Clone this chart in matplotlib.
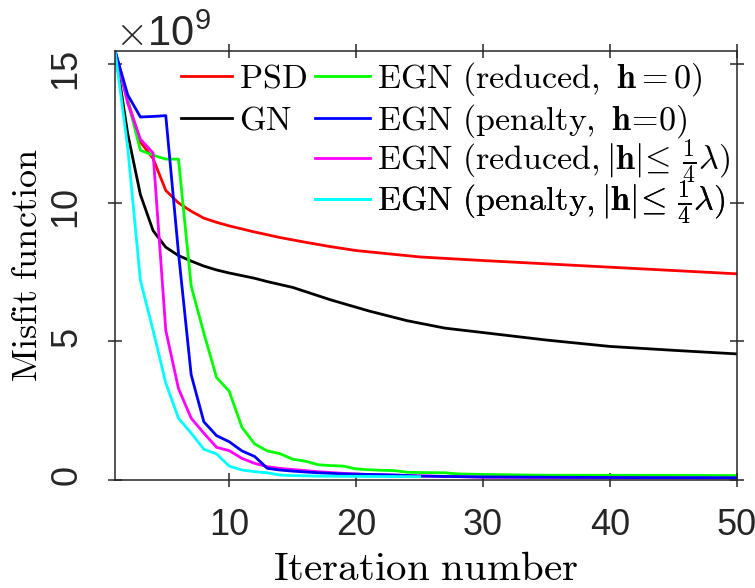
import numpy as np
import matplotlib
matplotlib.use('Agg')
import matplotlib.pyplot as plt
from matplotlib.ticker import ScalarFormatter

plt.rcParams['font.family'] = 'Liberation Sans'
plt.rcParams['mathtext.fontset'] = 'cm'

# Misfit values, in units of 1e9
psd_it = [1, 2, 3, 4, 5, 6, 7, 8, 9, 10, 12, 14, 16, 18, 20, 25, 30, 35, 40, 45, 50]
psd_val = [15.5, 13.7, 12.2, 11.6, 10.45, 10.0, 9.7, 9.45, 9.3, 9.17, 8.95, 8.75, 8.58,
           8.42, 8.28, 8.05, 7.92, 7.8, 7.68, 7.56, 7.44]

gn_it = [1, 2, 3, 4, 5, 6, 7, 8, 9, 10, 12, 13, 15, 18, 21, 24, 27, 30, 35, 40, 45, 50]
gn_val = [15.5, 12.5, 10.3, 9.0, 8.4, 8.1, 7.9, 7.72, 7.58, 7.47, 7.28, 7.16, 6.95, 6.5,
          6.1, 5.75, 5.48, 5.32, 5.05, 4.82, 4.68, 4.55]

egn_rh_it = [1, 2, 3, 4, 5, 6, 7, 8, 9, 10, 11, 12, 13, 14, 15, 16, 17, 18, 19, 20,
             21, 22, 23, 24, 25, 27, 28, 30, 35, 40, 50]
egn_rh_val = [15.5, 13.7, 11.9, 11.72, 11.58, 11.58, 7.0, 5.3, 3.7, 3.2, 1.9, 1.3, 1.05,
              0.95, 0.75, 0.68, 0.55, 0.52, 0.5, 0.4, 0.37, 0.35, 0.34, 0.28, 0.27,
              0.26, 0.22, 0.2, 0.17, 0.17, 0.16]

egn_ph_it = [1, 2, 3, 4, 5, 6, 7, 8, 9, 10, 11, 12, 13, 14, 15, 17, 19, 21, 23, 25,
             30, 40, 50]
egn_ph_val = [15.5, 13.9, 13.1, 13.12, 13.15, 8.2, 3.8, 2.1, 1.6, 1.38, 1.05, 0.85,
              0.42, 0.36, 0.32, 0.26, 0.22, 0.2, 0.18, 0.14, 0.11, 0.09, 0.08]

egn_rq_it = [1, 2, 3, 4, 5, 6, 7, 8, 9, 10, 11, 12, 13, 14, 15, 17, 19, 21, 25, 30,
             40, 50]
egn_rq_val = [15.5, 13.6, 12.3, 11.8, 5.4, 3.3, 2.23, 1.69, 1.18, 1.06, 0.78, 0.6,
              0.48, 0.42, 0.38, 0.3, 0.24, 0.2, 0.15, 0.1, 0.08, 0.07]

egn_pq_it = [1, 2, 3, 4, 5, 6, 7, 8, 9, 10, 11, 12, 13, 14, 15, 17, 20, 25]
egn_pq_val = [15.5, 12.0, 7.2, 5.4, 3.5, 2.23, 1.69, 1.11, 0.94, 0.5, 0.36, 0.3, 0.26,
              0.18, 0.16, 0.14, 0.13, 0.12]

lab_psd = r'$\mathrm{PSD}$'
lab_gn = r'$\mathrm{GN}$'
lab_rh = r'$\mathrm{EGN\ (reduced,\ }\mathbf{h} = \mathbf{0})$'
lab_ph = r'$\mathrm{EGN\ (penalty,\ }\mathbf{h}\!=\!\mathbf{0})$'
lab_rq = r'$\mathrm{EGN\ (reduced,}|\mathbf{h}|\!\leq\,\frac{1}{4}\lambda)$'
lab_pq = r'$\mathrm{EGN\ (penalty,}|\mathbf{h}|\!\leq\,\frac{1}{4}\lambda)$'

W, H = 755, 588
fig = plt.figure(figsize=(W / 100, H / 100), dpi=100)
ax = fig.add_axes([115 / W, 108 / H, 622 / W, 429.5 / H])

lw = 2.0
scale = 1e9
l_psd, = ax.plot(psd_it, np.array(psd_val) * scale, color='#ff0000', lw=lw, label=lab_psd)
l_gn, = ax.plot(gn_it, np.array(gn_val) * scale, color='#000000', lw=lw, label=lab_gn)
l_rh, = ax.plot(egn_rh_it, np.array(egn_rh_val) * scale, color='#00ff00', lw=lw, label=lab_rh)
l_rq, = ax.plot(egn_rq_it, np.array(egn_rq_val) * scale, color='#ff00ff', lw=lw, label=lab_rq)
l_ph, = ax.plot(egn_ph_it, np.array(egn_ph_val) * scale, color='#0000ff', lw=lw, label=lab_ph)
l_pq, = ax.plot(egn_pq_it, np.array(egn_pq_val) * scale, color='#00ffff', lw=lw, label=lab_pq)

ax.set_xlim(1, 50)
ax.set_ylim(0, 15.5e9)
ax.set_xticks([10, 20, 30, 40, 50])
ax.set_yticks(np.array([0, 5, 10, 15]) * scale)

fmt = ScalarFormatter(useMathText=True)
fmt.set_powerlimits((9, 9))
ax.yaxis.set_major_formatter(fmt)

axcol = '#262626'
for s in ax.spines.values():
    s.set_linewidth(1.1)
    s.set_color(axcol)
ax.tick_params(direction='inout', length=10, width=1.1, colors=axcol,
               top=True, right=True, labelsize=26)
ax.tick_params(axis='x', pad=15)
ax.tick_params(axis='y', labelrotation=90, pad=16)
ax.yaxis.get_offset_text().set_fontsize(30)

ax.set_xlabel(r'$\mathrm{Iteration\ number}$', fontsize=29.5, labelpad=5)
ax.set_ylabel(r'$\mathrm{Misfit\ function}$', fontsize=26, labelpad=4)

# legend: one entry per row so both columns keep the same row spacing
entries = [(l_psd, 181, 79, 1.5), (l_gn, 181, 121, 1.5),
           (l_rh, 315, 79, 1.62), (l_ph, 315, 121, 1.62),
           (l_rq, 315, 162, 1.62), (l_pq, 315, 203, 1.62)]
for line, x0, y0, hl in entries:
    leg = ax.legend(handles=[line], loc='center left',
                    bbox_to_anchor=(x0 / W, 1 - y0 / H), bbox_transform=fig.transFigure,
                    frameon=False, fontsize=24.5, handlelength=hl, handletextpad=0.2,
                    borderpad=0, borderaxespad=0)
    ax.add_artist(leg)

fig.savefig('out.png', dpi=100)
